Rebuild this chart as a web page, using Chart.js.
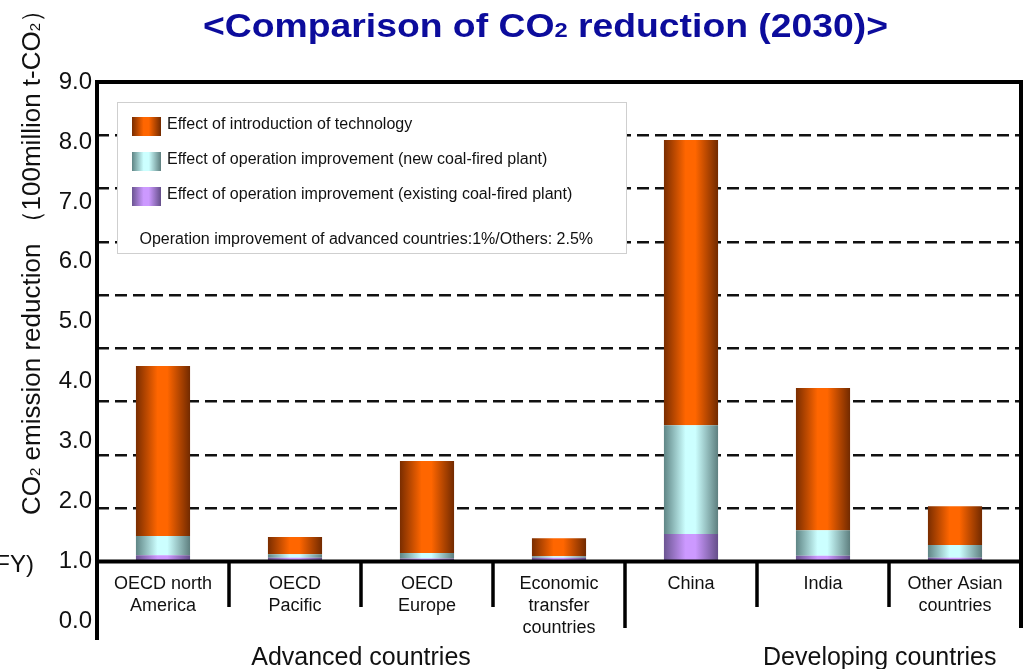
<!DOCTYPE html>
<html>
<head>
<meta charset="utf-8">
<script src="https://cdn.jsdelivr.net/npm/chart.js@4.4.1/dist/chart.umd.min.js"></script>
<style>
html,body{margin:0;padding:0;background:#fff;}
#wrap{width:1028px;height:669px;position:relative;}
canvas{display:block;}
</style>
</head>
<body>
<div id="wrap"><canvas id="c" width="1028" height="669"></canvas></div>
<script>
// ---------- data ----------
const categories = ['OECD north\nAmerica', 'OECD\nPacific', 'OECD\nEurope', 'Economic\ntransfer\ncountries', 'China', 'India', 'Other Asian\ncountries'];
const groups = ['Advanced countries', 'Advanced countries', 'Advanced countries', 'Advanced countries', 'Developing countries', 'Developing countries', 'Developing countries'];
const seriesNames = ['Effect of introduction of technology', 'Effect of operation improvement (new coal-fired plant)', 'Effect of operation improvement (existing coal-fired plant)'];
const techEffect = [3.19, 0.32, 1.73, 0.34, 5.35, 2.67, 0.73];
const newPlantEffect = [0.36, 0.07, 0.10, 0.03, 2.04, 0.48, 0.24];
const existingPlantEffect = [0.12, 0.07, 0.06, 0.07, 0.52, 0.11, 0.07];
const yTickLabels = ['0.0', '1.0', '2.0', '3.0', '4.0', '5.0', '6.0', '7.0', '8.0', '9.0'];
const noteText = 'Operation improvement of advanced countries:1%/Others: 2.5%';

// ---------- styling ----------
const FONT = '"Liberation Sans", Arial, Helvetica, sans-serif';
const TEXT = '#111111';
const BAR_FRACTION = 0.41;
const stopsTech = [[0, '#7a2d00'], [0.4, '#ff6600'], [0.58, '#ff6600'], [1, '#722a00']];
const stopsNew = [[0, '#5f8585'], [0.4, '#ccffff'], [0.58, '#ccffff'], [1, '#5e7f7f']];
const stopsExisting = [[0, '#6b5592'], [0.4, '#cc99ff'], [0.58, '#cc99ff'], [1, '#654f8a']];

function hGrad(ctx, x0, x1, stops) {
  const g = ctx.createLinearGradient(x0, 0, x1, 0);
  stops.forEach(([o, c]) => g.addColorStop(o, c));
  return g;
}
function barFill(stops) {
  return (c) => {
    const ch = c.chart;
    if (c.type !== 'data' || !ch.chartArea || !ch.scales.x) return stops[1][1];
    const xs = ch.scales.x;
    const cx = xs.getPixelForValue(c.dataIndex);
    const half = xs.width / categories.length * BAR_FRACTION / 2;
    return hGrad(ch.ctx, cx - half, cx + half, stops);
  };
}
function segWidth(ctx, segs) {
  let w = 0;
  segs.forEach(s => { ctx.font = s.font; w += ctx.measureText(s.text).width; });
  return w;
}
function drawSegs(ctx, segs) {
  let cx = 0;
  segs.forEach(s => { ctx.font = s.font; ctx.fillText(s.text, cx, s.dy || 0); cx += ctx.measureText(s.text).width; });
}
function line(ctx, x0, y0, x1, y1) { ctx.beginPath(); ctx.moveTo(x0, y0); ctx.lineTo(x1, y1); ctx.stroke(); }

const datasetsStops = [stopsExisting, stopsNew, stopsTech];

const decor = {
  id: 'decor',
  afterDatasetsDraw(chart) {
    const { ctx, chartArea: a, scales } = chart;
    const x = scales.x, yl = scales.yl;
    ctx.save();
    ctx.strokeStyle = '#000';
    ctx.lineCap = 'butt';
    // frame
    ctx.lineWidth = 4;
    line(ctx, a.left, a.top - 2, a.left, 640);
    line(ctx, a.left - 2, a.top, a.right + 2, a.top);
    line(ctx, a.right, a.top - 2, a.right, 628);
    line(ctx, a.left - 2, a.bottom, a.right + 2, a.bottom);
    // category separators
    ctx.lineWidth = 3.5;
    for (let i = 1; i < categories.length; i++) {
      const bx = (x.getPixelForValue(i - 1) + x.getPixelForValue(i)) / 2;
      const long = groups[i] !== groups[i - 1];
      line(ctx, bx, a.bottom, bx, long ? 628 : 607);
    }
    // group labels
    ctx.fillStyle = TEXT;
    ctx.font = '25px ' + FONT;
    ctx.textAlign = 'center';
    ctx.textBaseline = 'alphabetic';
    const groupAnchors = { 'Advanced countries': 1.5, 'Developing countries': 5.43 };
    [...new Set(groups)].forEach(g => {
      ctx.fillText(g, x.getPixelForValue(groupAnchors[g]), 665);
    });
    // y label below axis range
    ctx.font = '24px ' + FONT;
    ctx.textAlign = 'right';
    ctx.textBaseline = 'middle';
    ctx.fillText(yTickLabels[0], 92, yl.getPixelForValue(0));
    // (FY)
    ctx.textBaseline = 'alphabetic';
    ctx.fillText('(FY)', 34, 572);

    // legend box
    const L = { x: 117.5, y: 102.5, w: 509, h: 151 };
    ctx.fillStyle = '#fff';
    ctx.fillRect(L.x, L.y, L.w, L.h);
    ctx.strokeStyle = '#cfcfcf';
    ctx.lineWidth = 1;
    ctx.strokeRect(L.x, L.y, L.w, L.h);
    const order = [2, 1, 0];
    ctx.font = '16px ' + FONT;
    ctx.textAlign = 'left';
    ctx.textBaseline = 'middle';
    order.forEach((di, r) => {
      const cy = 126.5 + r * 35;
      ctx.fillStyle = hGrad(ctx, 132, 161, datasetsStops[di]);
      ctx.fillRect(132, cy - 9.5, 29, 19);
      ctx.fillStyle = TEXT;
      ctx.fillText(chart.data.datasets[di].label, 167, cy - 2);
    });
    ctx.fillText(noteText, 139.5, 240);
    ctx.restore();
  },
  afterDraw(chart) {
    const { ctx } = chart;
    ctx.save();
    // title
    const tSegs = [
      { text: '<Comparison of CO', font: 'bold 33px ' + FONT },
      { text: '2', font: 'bold 21px ' + FONT },
      { text: ' reduction (2030)>', font: 'bold 33px ' + FONT }
    ];
    const W = segWidth(ctx, tSegs);
    ctx.fillStyle = '#0c0c9c';
    ctx.textAlign = 'left';
    ctx.textBaseline = 'alphabetic';
    ctx.translate(203, 37);
    ctx.scale(685 / W, 1);
    drawSegs(ctx, tSegs);
    ctx.restore();
    // y title
    ctx.save();
    ctx.fillStyle = TEXT;
    ctx.textAlign = 'left';
    ctx.textBaseline = 'alphabetic';
    ctx.translate(40, 515);
    ctx.rotate(-Math.PI / 2);
    drawSegs(ctx, [
      { text: 'CO', font: '26px ' + FONT },
      { text: '2', font: '15px ' + FONT },
      { text: ' emission reduction （100million t-CO', font: '26px ' + FONT },
      { text: '2', font: '15px ' + FONT },
      { text: '）', font: '26px ' + FONT }
    ]);
    ctx.restore();
  }
};

new Chart(document.getElementById('c'), {
  type: 'bar',
  data: {
    labels: categories,
    datasets: [
      { label: seriesNames[2], data: existingPlantEffect, backgroundColor: barFill(stopsExisting) },
      { label: seriesNames[1], data: newPlantEffect, backgroundColor: barFill(stopsNew) },
      { label: seriesNames[0], data: techEffect, backgroundColor: barFill(stopsTech) }
    ]
  },
  options: {
    responsive: false,
    animation: false,
    devicePixelRatio: 1,
    datasets: { bar: { categoryPercentage: BAR_FRACTION, barPercentage: 1, borderWidth: 0 } },
    layout: { padding: { top: 82, right: 7, bottom: 0, left: 0 } },
    plugins: { legend: { display: false }, tooltip: { enabled: false }, title: { display: false } },
    scales: {
      x: {
        stacked: true,
        grid: { display: false, drawTicks: false },
        border: { display: false },
        ticks: {
          autoSkip: false, maxRotation: 0, minRotation: 0, padding: 11, color: TEXT,
          font: { family: FONT, size: 18, lineHeight: 22 / 18 },
          callback: (v, i) => categories[i].split('\n')
        },
        afterFit: s => { s.height = 107.4; }
      },
      y: {
        stacked: true, position: 'left', min: 0, max: 9,
        ticks: { display: false, stepSize: 1 },
        grid: {
          drawTicks: false, lineWidth: 2.5,
          color: c => (c.tick && (c.tick.value === 0 || c.tick.value === 9)) ? 'rgba(0,0,0,0)' : '#111'
        },
        border: { display: false, dash: [12, 6] },
        afterFit: s => { s.width = 0; }
      },
      yl: {
        position: 'left', min: 1, max: 9,
        ticks: { stepSize: 1, padding: 5, color: TEXT, font: { family: FONT, size: 24 }, callback: v => yTickLabels[v] },
        grid: { display: false, drawTicks: false },
        border: { display: false },
        afterFit: s => { s.width = 97; }
      }
    }
  },
  plugins: [decor]
});
</script>
</body>
</html>
